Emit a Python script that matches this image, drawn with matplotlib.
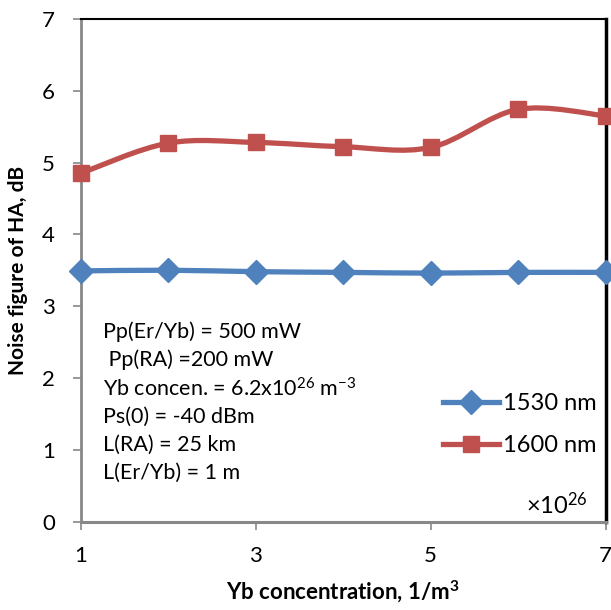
import matplotlib
matplotlib.use("Agg")
import matplotlib.pyplot as plt
import numpy as np
from matplotlib.path import Path
from matplotlib.patches import PathPatch
from matplotlib.lines import Line2D

plt.rcParams['font.family'] = ['Lato', 'DejaVu Sans']
plt.rcParams['mathtext.fontset'] = 'custom'
plt.rcParams['mathtext.rm'] = 'Lato'
plt.rcParams['mathtext.it'] = 'Lato:italic'
plt.rcParams['mathtext.bf'] = 'Lato:bold'

# data (Yb concentration x1e26 1/m^3)
yb_conc = [1, 2, 3, 4, 5, 6, 7]
nf_1530 = [3.49, 3.50, 3.48, 3.47, 3.46, 3.47, 3.47]
nf_1600 = [4.85, 5.27, 5.28, 5.22, 5.21, 5.74, 5.65]
series_names = ['1530 nm', '1600 nm']
notes = ['Pp(Er/Yb) = 500 mW',
         ' Pp(RA) =200 mW',
         'Yb concen. = 6.2x10$^{26}$ m$^{-3}$',
         'Ps(0) = -40 dBm',
         'L(RA) = 25 km',
         'L(Er/Yb) = 1 m']

blue = '#4F81BD'
red = '#C0504D'


def smooth_path(xs, ys):
    # excel-like smoothed line: cubic bezier through the points
    p = np.column_stack([xs, ys]).astype(float)
    n = len(p)
    verts = [p[0]]
    codes = [Path.MOVETO]
    for i in range(n - 1):
        p0 = p[i - 1] if i > 0 else p[i]
        p3 = p[i + 2] if i + 2 < n else p[i + 1]
        c1 = p[i] + (p[i + 1] - p0) / 6
        c2 = p[i + 1] - (p3 - p[i]) / 6
        verts += [c1, c2, p[i + 1]]
        codes += [Path.CURVE4] * 3
    return Path(verts, codes)


fig = plt.figure(figsize=(6.11, 6.10), dpi=100)
ax = fig.add_axes([0.132, 0.145, 0.859, 0.824])

styles = [(nf_1530, blue, 'D', 12), (nf_1600, red, 's', 11)]
for ys, col, mk, ms in styles:
    ax.add_patch(PathPatch(smooth_path(yb_conc, ys), facecolor='none',
                           edgecolor=col, lw=3.8, zorder=3, clip_on=False))
    ax.plot(yb_conc, ys, linestyle='none', marker=mk, ms=ms, color=col,
            zorder=4, clip_on=False)

ax.set_xlim(1, 7)
ax.set_ylim(0, 7)
ax.set_xticks([1, 3, 5, 7])
ax.set_yticks(range(0, 8))
ax.tick_params(axis='both', labelsize=16, length=5.5, width=1.2, color='#888888')
ax.tick_params(axis='x', pad=12)
ax.tick_params(axis='y', pad=13)

ax.spines['left'].set_color('#888888')
ax.spines['left'].set_linewidth(2)
ax.spines['bottom'].set_color('#888888')
ax.spines['bottom'].set_linewidth(2.2)
ax.spines['right'].set_color('black')
ax.spines['right'].set_linewidth(2.5)
ax.spines['top'].set_color('black')
ax.spines['top'].set_linewidth(1.5)

ax.set_xlabel('Yb concentration, 1/m$^\\mathbf{3}$', fontsize=16, fontweight='bold', labelpad=9)
ax.set_ylabel('Noise figure of HA, dB', fontsize=15, fontweight='bold', labelpad=10)

for i, line in enumerate(notes):
    ax.text(1.255, 2.64 - i * 0.393, line, fontsize=15.5, va='center', ha='left')

ax.text(0.967, 0.033, '×10$^{26}$', transform=ax.transAxes, fontsize=17,
        ha='right', va='center')

handles = [Line2D([], [], color=st[1], lw=3.8, marker=st[2], ms=st[3]) for st in styles]
ax.legend(handles, series_names, loc='center left', bbox_to_anchor=(0.69, 0.193),
          frameon=False, fontsize=17, handlelength=2.4, handletextpad=0.17,
          labelspacing=0.9, borderaxespad=0, borderpad=0)

fig.savefig('out.png', dpi=100)
